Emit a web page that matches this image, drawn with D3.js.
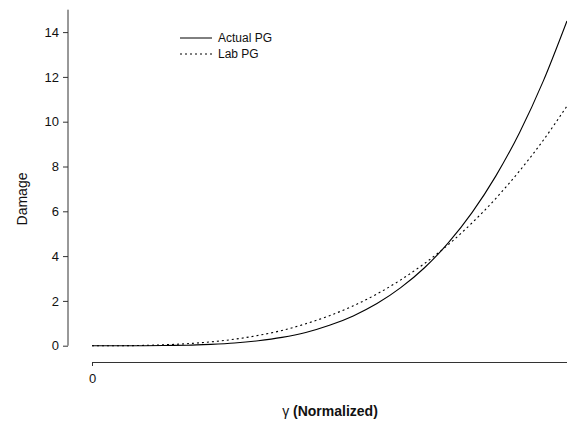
<!DOCTYPE html>
<html>
<head>
<meta charset="utf-8">
<script src="https://cdn.jsdelivr.net/npm/d3@7"></script>
<style>
  body { margin: 0; background: #fff; }
  svg text { font-family: "Liberation Sans", Arial, sans-serif; fill: #111; }
</style>
</head>
<body>
<div id="chart"></div>
<script>
// gamma (normalized) sample points
let gammaValues = [0, 0.05, 0.1, 0.15, 0.2, 0.25, 0.3, 0.35, 0.4, 0.45, 0.5,
  0.55, 0.6, 0.65, 0.7, 0.75, 0.8, 0.85, 0.9, 0.95, 1.0];
// damage
let actualPG = [0, 0, 0, 0.01, 0.02, 0.06, 0.12, 0.22, 0.37, 0.59, 0.91,
  1.33, 1.88, 2.59, 3.48, 4.59, 5.94, 7.57, 9.51, 11.81, 14.5];
let labPG = [0, 0, 0.01, 0.04, 0.09, 0.17, 0.29, 0.46, 0.68, 0.98, 1.34,
  1.78, 2.31, 2.94, 3.67, 4.51, 5.48, 6.57, 7.8, 9.17, 10.7];
let yTicks = [0, 2, 4, 6, 8, 10, 12, 14];
let xTicks = [0];
let seriesNames = ['Actual PG', 'Lab PG'];

let width = 567, height = 426;

let svg = d3.select('#chart')
  .append('svg')
  .attr('width', width)
  .attr('height', height);

// scales
let xScale = d3.scaleLinear().domain([0, 1]).range([92, 567]);
let yScale = d3.scaleLinear().domain([0, 15]).range([345.7, 9.7]);

// y axis (offset to the left of the plot)
let yAxis = d3.axisLeft(yScale).tickValues(yTicks).tickSize(5).tickPadding(4).tickSizeOuter(0);
let gy = svg.append('g')
  .attr('transform', 'translate(68,0)')
  .call(yAxis);
gy.select('.domain').attr('stroke', '#333').attr('d', 'M0,' + yScale(15) + 'V' + yScale(0));
gy.selectAll('.tick line').attr('stroke', '#333');
gy.selectAll('.tick text').style('font-size', '13px').attr('fill', '#111');

// x axis (offset below the plot)
let xAxis = d3.axisBottom(xScale).tickValues(xTicks).tickFormat(d3.format('d'))
  .tickSize(4).tickPadding(8).tickSizeOuter(0);
let gx = svg.append('g')
  .attr('transform', 'translate(0,362)')
  .call(xAxis);
gx.select('.domain').attr('stroke', '#333');
gx.selectAll('.tick line').attr('stroke', '#333');
gx.selectAll('.tick text').style('font-size', '13px').attr('fill', '#111');

// curves
let line = d3.line()
  .x(function(d, i) { return xScale(gammaValues[i]); })
  .y(function(d) { return yScale(d); })
  .curve(d3.curveMonotoneX);

svg.append('path')
  .datum(actualPG)
  .attr('d', line)
  .attr('fill', 'none')
  .attr('stroke', '#000')
  .attr('stroke-width', 1.1);

svg.append('path')
  .datum(labPG)
  .attr('d', line)
  .attr('fill', 'none')
  .attr('stroke', '#000')
  .attr('stroke-width', 1.1)
  .attr('stroke-dasharray', '2,3');

// legend
let legend = svg.append('g').attr('transform', 'translate(180,38)');
seriesNames.forEach(function(name, i) {
  legend.append('line')
    .attr('x1', 0).attr('x2', 32)
    .attr('y1', i * 16).attr('y2', i * 16)
    .attr('stroke', '#000')
    .attr('stroke-width', 1)
    .attr('stroke-dasharray', i === 1 ? '2,3' : null);
  legend.append('text')
    .attr('x', 38).attr('y', i * 16)
    .attr('dy', '0.35em')
    .style('font-size', '12px')
    .text(name);
});

// axis titles
svg.append('text')
  .attr('transform', 'translate(27,199) rotate(-90)')
  .attr('text-anchor', 'middle')
  .style('font-size', '14px')
  .text('Damage');

let xTitle = svg.append('text')
  .attr('x', 330).attr('y', 416)
  .attr('text-anchor', 'middle')
  .style('font-size', '14px');
xTitle.append('tspan').text('γ ');
xTitle.append('tspan').style('font-weight', 'bold').text('(Normalized)');
</script>
</body>
</html>
